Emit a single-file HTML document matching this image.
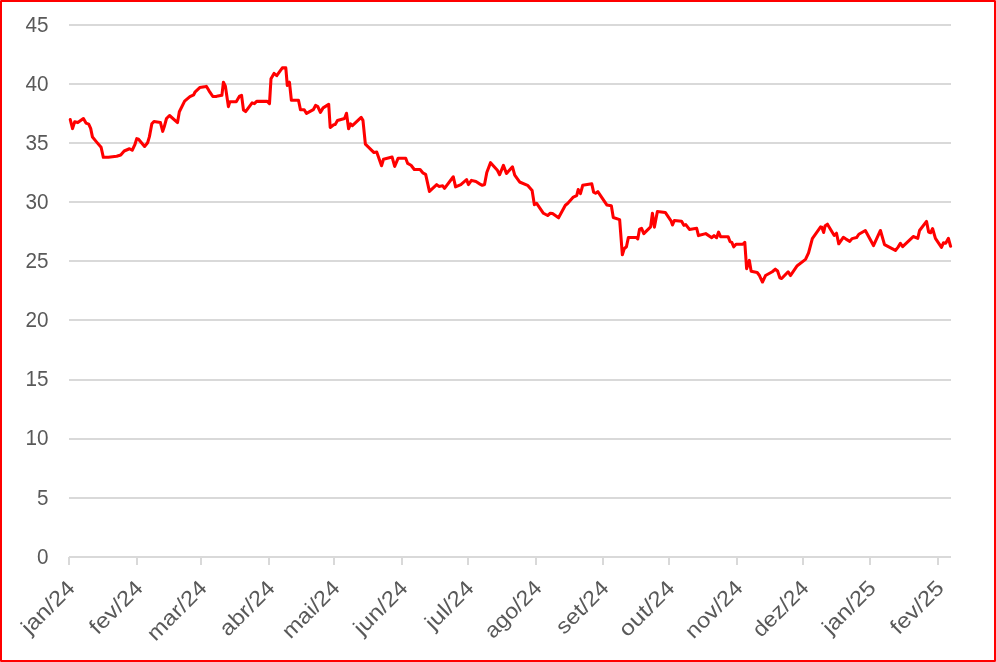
<!DOCTYPE html>
<html><head><meta charset="utf-8"><title>chart</title>
<style>
html,body{margin:0;padding:0;background:#fff;}
body{width:996px;height:662px;position:relative;overflow:hidden;font-family:"Liberation Sans",sans-serif;}
svg text{font-family:"Liberation Sans",sans-serif;}
.frame{position:absolute;left:0;top:0;width:996px;height:662px;box-sizing:border-box;border:2px solid #ff0000;}
.c{position:absolute;width:1px;height:1px;background:rgba(255,255,255,.3);}
</style></head><body>
<svg width="996" height="662" viewBox="0 0 996 662" style="position:absolute;left:0;top:0;will-change:transform"><g fill="#d9d9d9" shape-rendering="crispEdges"><rect x="69" y="556" width="882" height="2"/><rect x="69" y="497" width="882" height="2"/><rect x="69" y="438" width="882" height="2"/><rect x="69" y="379" width="882" height="2"/><rect x="69" y="319" width="882" height="2"/><rect x="69" y="260" width="882" height="2"/><rect x="69" y="201" width="882" height="2"/><rect x="69" y="142" width="882" height="2"/><rect x="69" y="83" width="882" height="2"/><rect x="69" y="24" width="882" height="2"/><rect x="68" y="557" width="2" height="8"/><rect x="136" y="557" width="2" height="8"/><rect x="200" y="557" width="2" height="8"/><rect x="268" y="557" width="2" height="8"/><rect x="333" y="557" width="2" height="8"/><rect x="401" y="557" width="2" height="8"/><rect x="467" y="557" width="2" height="8"/><rect x="535" y="557" width="2" height="8"/><rect x="602" y="557" width="2" height="8"/><rect x="668" y="557" width="2" height="8"/><rect x="736" y="557" width="2" height="8"/><rect x="802" y="557" width="2" height="8"/><rect x="869" y="557" width="2" height="8"/><rect x="937" y="557" width="2" height="8"/></g><g fill="#595959" font-size="21.5" text-anchor="end"><text x="48.4" y="563.70" textLength="11.5" lengthAdjust="spacingAndGlyphs">0</text><text x="48.4" y="504.70" textLength="11.5" lengthAdjust="spacingAndGlyphs">5</text><text x="48.4" y="444.70" textLength="23.0" lengthAdjust="spacingAndGlyphs">10</text><text x="48.4" y="385.80" textLength="23.0" lengthAdjust="spacingAndGlyphs">15</text><text x="48.4" y="326.70" textLength="23.0" lengthAdjust="spacingAndGlyphs">20</text><text x="48.4" y="267.70" textLength="23.0" lengthAdjust="spacingAndGlyphs">25</text><text x="48.4" y="208.70" textLength="23.0" lengthAdjust="spacingAndGlyphs">30</text><text x="48.4" y="149.70" textLength="23.0" lengthAdjust="spacingAndGlyphs">35</text><text x="48.4" y="90.70" textLength="23.0" lengthAdjust="spacingAndGlyphs">40</text><text x="48.4" y="31.70" textLength="23.0" lengthAdjust="spacingAndGlyphs">45</text></g><g fill="#595959" font-size="21.5" text-anchor="end"><text transform="translate(76.1,589.2) rotate(-45)" textLength="65.5" lengthAdjust="spacingAndGlyphs">jan/24</text><text transform="translate(144.1,589.2) rotate(-45)" textLength="65.5" lengthAdjust="spacingAndGlyphs">fev/24</text><text transform="translate(208.1,589.2) rotate(-45)" textLength="74.5" lengthAdjust="spacingAndGlyphs">mar/24</text><text transform="translate(276.1,589.2) rotate(-45)" textLength="68" lengthAdjust="spacingAndGlyphs">abr/24</text><text transform="translate(341.1,589.2) rotate(-45)" textLength="71.5" lengthAdjust="spacingAndGlyphs">mai/24</text><text transform="translate(409.1,589.2) rotate(-45)" textLength="66.5" lengthAdjust="spacingAndGlyphs">jun/24</text><text transform="translate(475.1,589.2) rotate(-45)" textLength="59" lengthAdjust="spacingAndGlyphs">jul/24</text><text transform="translate(543.1,589.2) rotate(-45)" textLength="71" lengthAdjust="spacingAndGlyphs">ago/24</text><text transform="translate(610.1,589.2) rotate(-45)" textLength="65" lengthAdjust="spacingAndGlyphs">set/24</text><text transform="translate(676.1,589.2) rotate(-45)" textLength="69" lengthAdjust="spacingAndGlyphs">out/24</text><text transform="translate(744.1,589.2) rotate(-45)" textLength="71.5" lengthAdjust="spacingAndGlyphs">nov/24</text><text transform="translate(810.1,589.2) rotate(-45)" textLength="69.5" lengthAdjust="spacingAndGlyphs">dez/24</text><text transform="translate(877.1,589.2) rotate(-45)" textLength="65.5" lengthAdjust="spacingAndGlyphs">jan/25</text><text transform="translate(945.1,589.2) rotate(-45)" textLength="65.5" lengthAdjust="spacingAndGlyphs">fev/25</text></g><path d="M70.27,119.58 L72.54,128.64 L74.65,121.84 L77.82,122.60 L83.41,118.52 L85.98,123.05 L88.70,124.11 L90.66,128.34 L92.48,137.10 L96.25,141.63 L101.09,147.22 L103.35,157.34 L108.34,157.34 L116.65,156.28 L120.73,155.08 L124.20,151.00 L129.49,148.73 L132.21,150.24 L134.77,144.95 L136.74,138.61 L138.55,139.21 L144.59,146.47 L147.61,142.69 L149.43,136.65 L151.84,123.81 L153.96,121.54 L160.45,122.60 L162.72,131.36 L164.23,126.83 L166.50,118.52 L169.52,115.50 L177.52,122.60 L179.34,111.72 L184.62,101.15 L189.91,96.62 L193.69,94.80 L195.20,91.78 L199.73,87.55 L206.22,86.50 L206.34,86.25 L209.06,90.79 L212.84,96.53 L216.62,96.37 L221.90,95.32 L223.41,82.18 L225.38,86.25 L228.40,106.65 L229.91,101.66 L236.25,101.66 L239.58,96.07 L241.54,95.32 L243.50,110.12 L245.62,111.63 L252.11,102.87 L254.38,103.63 L256.65,101.36 L267.22,101.36 L269.49,103.63 L271.00,78.70 L274.02,73.41 L276.74,75.68 L282.33,67.87 L285.80,67.87 L287.31,85.50 L289.43,82.18 L291.39,100.30 L298.49,100.30 L300.45,109.67 L304.23,109.67 L306.50,113.44 L313.29,109.67 L315.56,105.44 L317.82,106.65 L320.39,112.39 L323.11,107.85 L328.70,104.38 L330.21,127.49 L333.69,124.77 L335.20,124.47 L337.46,120.54 L344.53,118.43 L346.50,113.29 L348.61,128.70 L350.57,123.87 L352.39,125.68 L361.15,117.37 L362.96,120.39 L365.38,144.11 L373.99,152.57 L376.71,152.11 L381.54,165.71 L383.50,159.21 L392.11,157.10 L394.68,166.47 L398.16,158.16 L405.71,158.16 L407.67,163.44 L411.00,165.26 L414.32,169.49 L420.06,169.49 L422.78,172.81 L425.65,174.32 L429.43,191.39 L436.68,184.59 L438.94,186.40 L442.72,185.80 L444.53,188.37 L453.29,176.74 L455.56,186.86 L460.85,184.59 L466.59,179.61 L468.40,184.59 L471.42,180.36 L475.95,181.57 L480.00,184.11 L482.27,185.32 L484.53,184.56 L486.80,172.48 L490.57,162.66 L497.37,170.21 L499.64,174.74 L503.41,165.38 L506.44,173.53 L512.48,166.89 L514.74,175.05 L519.58,181.99 L527.58,185.32 L532.11,190.60 L534.38,204.65 L536.65,203.44 L543.44,213.26 L547.67,215.53 L550.24,213.26 L552.51,213.56 L558.55,217.79 L565.35,205.26 L567.61,203.44 L573.35,197.10 L576.68,195.59 L578.19,189.55 L580.45,193.63 L582.72,185.32 L591.78,183.81 L593.60,192.11 L595.56,193.17 L597.82,191.66 L606.80,204.92 L611.33,205.68 L613.29,217.46 L619.64,219.58 L622.36,254.77 L624.17,248.73 L626.44,246.77 L628.40,237.40 L636.25,237.40 L637.76,238.91 L639.58,229.09 L641.54,228.34 L643.81,233.63 L650.60,226.83 L652.42,213.23 L654.38,227.13 L657.40,211.42 L665.26,212.48 L671.00,220.79 L672.51,225.02 L674.32,220.48 L681.57,221.24 L683.84,225.32 L685.80,224.56 L689.43,229.40 L696.68,228.34 L698.49,235.59 L705.74,233.63 L711.78,237.70 L714.05,235.59 L716.62,237.70 L718.58,232.11 L720.54,236.65 L728.10,236.65 L730.00,241.54 L731.81,242.30 L733.78,246.83 L736.04,244.26 L742.84,244.26 L744.80,242.30 L746.62,268.73 L749.34,260.42 L751.15,271.30 L757.19,272.51 L759.46,275.53 L762.48,282.02 L765.50,275.53 L772.30,271.75 L775.32,269.18 L777.58,271.00 L779.85,277.79 L781.66,278.55 L788.16,271.75 L790.42,275.53 L797.22,265.71 L805.53,259.37 L808.55,252.87 L812.33,238.52 L820.63,226.89 L821.84,227.19 L823.66,232.48 L825.17,225.68 L827.43,224.17 L834.23,235.50 L836.50,233.23 L838.76,243.81 L843.29,237.31 L846.00,239.09 L849.78,241.36 L852.04,238.64 L856.57,237.58 L858.84,234.26 L865.34,230.48 L873.49,245.59 L880.44,230.48 L884.52,244.68 L895.40,250.42 L898.11,247.10 L900.38,243.32 L902.65,246.65 L913.22,236.53 L917.75,238.34 L919.56,230.48 L926.51,221.42 L928.63,231.99 L930.59,232.75 L932.56,228.52 L935.43,238.34 L941.47,247.40 L943.43,242.87 L945.70,243.17 L948.42,238.34 L950.60,246.30" fill="none" stroke="#ff0000" stroke-width="3.05" stroke-linejoin="round" stroke-linecap="round"/></svg>
<div class="frame"></div>
<div class="c" style="left:0;top:0"></div><div class="c" style="right:0;top:0"></div><div class="c" style="left:0;bottom:0"></div><div class="c" style="right:0;bottom:0"></div>
</body></html>
